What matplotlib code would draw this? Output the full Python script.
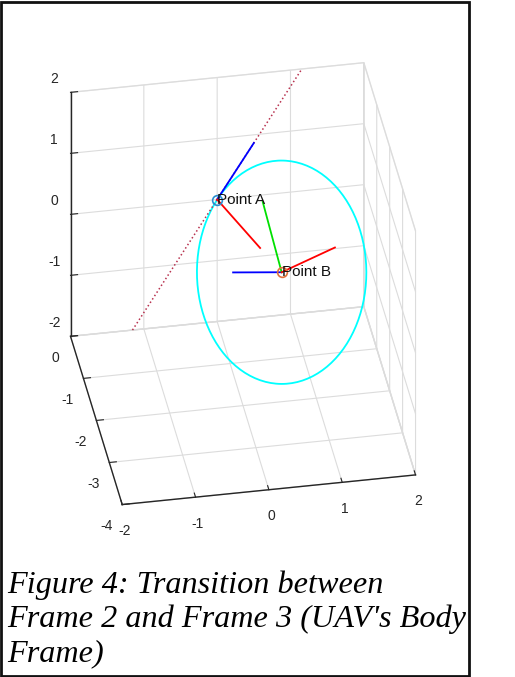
import numpy as np
import matplotlib.pyplot as plt
from matplotlib.patches import Rectangle

# tangent line through point A (lies in the y = 0 plane)
line_x = [-1.155, 1.155]
line_y = [0.0, 0.0]
line_z = [-2.0, 2.0]

# points and circle
point_a = [0.0, 0.0, 0.0]
point_b = [0.65, -1.3, -0.375]
radius = 1.5

# frame axes (unit vectors) drawn at A and at B
a_blue = [0.5, 0.0, 0.866]
a_red = [0.433, -0.866, -0.25]
b_blue = [-0.75, -0.5, 0.433]
b_green = [-0.125, 0.75, 0.65]
b_red = [0.65, -0.433, 0.625]

ticks_x = [-2, -1, 0, 1, 2]
ticks_y = [-4, -3, -2, -1, 0]
ticks_z = [-2, -1, 0, 1, 2]

caption = "Figure 4: Transition between\nFrame 2 and Frame 3 (UAV's Body\nFrame)"

plt.rcParams["font.family"] = ["Liberation Sans", "DejaVu Sans"]
plt.rcParams["axes.unicode_minus"] = False

fig = plt.figure(figsize=(5.15, 6.77), dpi=100)
ax = fig.add_axes([0.02, 0.152, 0.88, 0.84], projection="3d")
ax.set_proj_type("ortho")
ax.view_init(elev=35, azim=-100)
ax.set_box_aspect((1, 1, 1), zoom=1.105)

# circle around B, passing through A, in the plane of a_red / a_blue
A = np.array(point_a)
B = np.array(point_b)
u = -np.array(a_red)
v = np.array(a_blue)
t = np.linspace(0, 2 * np.pi, 200)
circ = B[:, None] + radius * (np.outer(u, np.cos(t)) + np.outer(v, np.sin(t)))
ax.plot(circ[0], circ[1], circ[2], color="cyan", lw=1.3)

ax.plot(line_x, line_y, line_z, ls=":", color="#b8324f", lw=1.1)

def arrow(p, d, c):
    ax.plot([p[0], p[0] + d[0]], [p[1], p[1] + d[1]], [p[2], p[2] + d[2]], color=c, lw=1.3)

arrow(A, a_blue, "blue")
arrow(A, a_red, "red")
arrow(B, b_blue, "blue")
arrow(B, b_green, "#00e000")
arrow(B, b_red, "red")

ax.plot(*[[c] for c in point_a], "o", mfc="none", mec="#2a8fd0", ms=7, mew=1.2)
ax.plot(*[[c] for c in point_b], "o", mfc="none", mec="#e0703a", ms=7, mew=1.2)
ax.text(*point_a, "Point A", fontsize=11, color="#111111", va="center")
ax.text(*point_b, "Point B", fontsize=11, color="#111111", va="center")

ax.set_xlim(-2, 2)
ax.set_ylim(-4, 0)
ax.set_zlim(-2, 2)
ax.set_xticks(ticks_x)
ax.set_yticks(ticks_y)
ax.set_zticks(ticks_z)

for axis in (ax.xaxis, ax.yaxis, ax.zaxis):
    axis.pane.fill = False
    axis.pane.set_edgecolor("#d0d0d0")
    axis._axinfo["grid"]["color"] = "#dcdcdc"
    axis._axinfo["grid"]["linewidth"] = 0.8
    axis._axinfo["tick"]["inward_factor"] = 0.0
    axis._axinfo["tick"]["outward_factor"] = 0.3
    axis.line.set_color("#262626")
    axis.line.set_linewidth(1.0)
ax.tick_params(labelsize=10, colors="#262626", pad=0)
ax.tick_params(axis="y", pad=1)
ax.tick_params(axis="x", pad=0)
for lab in ax.get_zticklabels():
    lab.set_va("bottom")

# caption and frame
fig.text(0.014, 0.1575, caption, family="Liberation Serif", style="italic",
         fontsize=23.2, va="top", linespacing=1.22)
fig.patches.append(Rectangle((0.002, 0.002), 0.909, 0.995, transform=fig.transFigure,
                             fill=False, edgecolor="#111111", lw=2))

fig.savefig("out.png", dpi=100)
